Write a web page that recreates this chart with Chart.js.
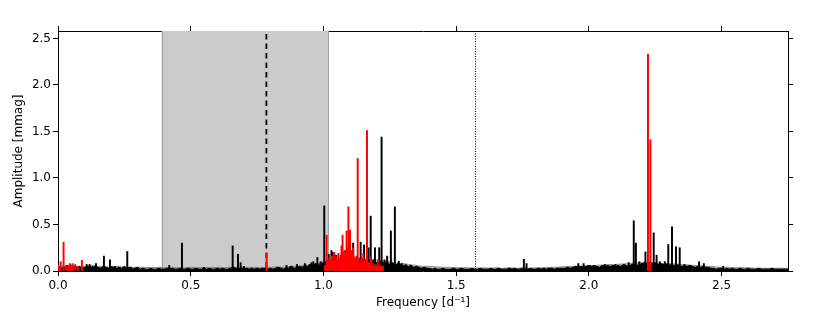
<!DOCTYPE html>
<html><head><meta charset="utf-8">
<script src="https://cdn.jsdelivr.net/npm/chart.js@4.4.1/dist/chart.umd.min.js"></script>
<style>html,body{margin:0;padding:0;background:#fff}</style>
</head><body>
<canvas id="c" width="830" height="316"></canvas>
<script>
// ---------- data (frequency in d^-1, amplitude in mmag) ----------
const xTicks = [0.0, 0.5, 1.0, 1.5, 2.0, 2.5];
const yTicks = [0.0, 0.5, 1.0, 1.5, 2.0, 2.5];
const xRange = [0, 2.75];
const yRange = [0, 2.58];
const shadeRange = [0.39, 1.02];
const dashedFreq = 0.785;
const dottedFreq = 1.571;

// noise floor of the full spectrum, sampled every 0.01 d^-1 from 0
const floorStep = 0.01;
const blackFloor = [
 0.03,0.04,0.03,0.05,0.04,0.03,0.05,0.04,0.05,0.03,0.04,
 0.04,0.05,0.03,0.06,0.04,0.03,0.05,0.04,0.03,0.05,0.04,0.03,0.04,0.03,0.05,0.03,0.04,0.02,0.03,0.04,
 0.02,0.03,0.02,0.02,0.03,0.02,0.02,0.03,0.02,0.02,0.03,0.02,0.03,0.02,0.02,0.03,0.02,0.02,0.03,0.02,
 0.02,0.03,0.02,0.02,0.03,0.02,0.03,0.02,0.02,0.03,0.02,0.03,0.02,0.02,0.03,0.04,0.03,0.02,0.03,0.02,
 0.03,0.02,0.03,0.02,0.03,0.02,0.03,0.03,0.02,0.03,0.02,0.03,0.04,0.03,0.02,0.04,0.03,0.05,0.03,0.04,
 0.05,0.04,0.06,0.05,0.07,0.06,0.08,0.06,0.09,0.08,
 0.10,0.12,0.09,0.14,0.11,0.13,0.10,0.15,0.12,0.14,0.11,0.13,0.10,0.14,0.12,0.11,0.13,0.10,0.12,0.09,0.11,0.10,0.08,0.10,0.07,0.09,0.06,0.08,0.07,0.06,
 0.06,0.05,0.06,0.04,0.05,0.04,0.03,0.04,0.03,0.03,
 0.02,0.03,0.02,0.02,0.03,0.02,0.02,0.02,0.03,0.02,0.02,0.03,0.02,0.02,0.02,0.03,0.02,0.02,0.03,0.02,
 0.02,0.02,0.03,0.02,0.02,0.03,0.02,0.02,0.02,0.03,0.02,0.03,0.02,0.02,0.03,0.02,0.02,0.03,0.02,0.02,
 0.03,0.02,0.03,0.02,0.03,0.03,0.02,0.03,0.03,0.03,
 0.03,0.04,0.03,0.04,0.05,0.04,0.05,0.04,0.05,0.06,0.05,0.06,0.05,0.04,0.06,0.05,0.06,0.05,0.06,0.05,
 0.06,0.05,0.07,0.06,0.05,0.07,0.08,0.06,0.07,0.08,0.09,0.08,0.10,0.08,0.09,0.07,0.08,0.07,0.08,0.06,
 0.07,0.06,0.07,0.06,0.05,0.06,0.05,0.06,0.05,0.04,0.05,0.04,0.05,0.04,0.04,
 0.03,0.03,0.02,0.03,0.03,0.02,0.03,0.02,0.03,0.02,0.02,0.03,0.02,0.02,0.03,0.02,0.02,0.02,0.03,0.02,
 0.02,0.02,0.02,0.03,0.02,0.02,0.02,0.02,0.02,0.02
];

// grey (original spectrum) noise level, sampled every 0.025 d^-1 from 0
const greyStep = 0.025;
const greyFloor = [
 0.06,0.05,0.06,0.05,0.05,0.06,0.05,0.05,0.04,0.05,0.04,0.04,0.04,
 0.04,0.035,0.04,0.035,0.04,0.035,0.035,0.04,0.035,0.04,0.035,0.04,0.035,0.04,0.04,0.035,0.04,0.04,0.035,0.04,0.045,0.04,0.05,0.05,
 0.06,0.07,0.08,0.10,0.12,0.13,0.14,0.13,0.14,0.13,0.12,0.12,0.11,0.10,0.09,0.08,0.07,0.06,
 0.05,0.05,0.045,0.04,0.04,0.035,0.035,0.035,0.03,0.035,0.03,0.035,0.03,0.035,0.03,0.035,0.03,0.035,0.035,0.04,0.04,0.045,
 0.05,0.05,0.055,0.06,0.06,0.065,0.07,0.07,0.075,0.08,0.085,0.09,0.09,0.085,0.08,0.08,0.075,0.07,0.065,0.06,0.055,0.05,
 0.045,0.04,0.04,0.035,0.035,0.035,0.03,0.03,0.03,0.03,0.03,0.03
];

// black peaks
const blackPeakFreq = [0.035,0.045,0.108,0.119,0.130,0.143,0.173,0.196,0.215,0.229,0.261,0.276,
 0.419,0.467,0.550,0.658,0.678,0.688,0.700,0.861,0.876,0.900,0.930,0.949,0.955,0.962,0.977,0.990,
 1.003,1.020,1.030,1.035,1.047,1.085,1.112,1.140,1.153,1.170,1.178,1.194,1.210,1.219,1.230,1.240,
 1.254,1.269,1.284,1.295,1.310,1.330,1.700,1.755,1.765,1.960,1.980,2.060,2.100,2.132,2.150,
 2.169,2.177,2.190,2.200,2.213,2.244,2.255,2.267,2.286,2.299,2.313,2.328,2.342,2.360,2.380,
 2.415,2.433,2.506];
const blackPeakAmp = [0.06,0.07,0.07,0.07,0.05,0.08,0.16,0.12,0.05,0.03,0.21,0.04,
 0.06,0.30,0.04,0.27,0.18,0.09,0.05,0.06,0.05,0.07,0.08,0.07,0.09,0.10,0.145,0.10,
 0.70,0.18,0.22,0.20,0.17,0.22,0.30,0.31,0.28,0.25,0.59,0.25,0.25,1.44,0.12,0.16,
 0.43,0.69,0.105,0.08,0.07,0.06,0.03,0.125,0.08,0.08,0.08,0.07,0.07,0.07,0.09,
 0.54,0.30,0.10,0.08,0.205,0.41,0.17,0.10,0.10,0.285,0.475,0.26,0.25,0.07,0.06,
 0.10,0.08,0.05];

// red peaks
const redPeakFreq = [0.004,0.010,0.021,0.030,0.038,0.044,0.050,0.055,0.065,0.075,0.090,0.786,
 1.006,1.012,1.016,1.020,1.024,1.028,1.032,1.036,1.041,1.045,1.050,1.056,1.060,1.064,1.068,1.072,
 1.076,1.080,1.084,1.087,1.091,1.094,1.097,1.100,1.104,1.108,1.112,1.116,1.120,1.124,1.129,1.133,
 1.137,1.142,1.146,1.150,1.155,1.159,1.164,1.168,1.172,1.176,1.179,1.184,1.188,1.192,1.197,1.201,
 1.206,1.211,1.216,1.220,1.224,2.2225,2.2315];
const redPeakAmp = [0.05,0.10,0.31,0.06,0.05,0.08,0.06,0.08,0.07,0.05,0.115,0.19,
 0.06,0.385,0.10,0.14,0.08,0.12,0.16,0.10,0.20,0.12,0.15,0.19,0.13,0.17,0.27,0.385,
 0.20,0.22,0.18,0.43,0.25,0.69,0.30,0.44,0.22,0.17,0.245,0.15,0.12,0.16,1.21,0.14,
 0.10,0.13,0.09,0.19,0.11,0.08,1.51,0.10,0.07,0.09,0.15,0.06,0.08,0.05,0.07,0.05,
 0.115,0.05,0.06,0.04,0.05,2.33,1.41];

// ---------- chart ----------
const pts = (fs, as) => fs.map((f, i) => ({x: f, y: as[i]}));
const grid = (arr, step) => arr.map((a, i) => ({x: +(i * step).toFixed(4), y: a}));

const shadePlugin = {
  id: 'shade',
  beforeDatasetsDraw(chart) {
    const {ctx, chartArea: a, scales: {x}} = chart;
    const x0 = x.getPixelForValue(shadeRange[0]);
    const x1 = x.getPixelForValue(shadeRange[1]);
    ctx.save();
    ctx.fillStyle = '#cbcbcb';
    ctx.fillRect(x0, a.top, x1 - x0, a.bottom - a.top);
    ctx.strokeStyle = '#a0a0a0';
    ctx.lineWidth = 1;
    ctx.beginPath();
    ctx.moveTo(Math.round(x0) + 0.5, a.top); ctx.lineTo(Math.round(x0) + 0.5, a.bottom);
    ctx.moveTo(Math.round(x1) - 0.5, a.top); ctx.lineTo(Math.round(x1) - 0.5, a.bottom);
    ctx.stroke();
    const xd = x.getPixelForValue(dashedFreq);
    ctx.strokeStyle = '#000';
    ctx.lineWidth = 1.8;
    ctx.setLineDash([5.5, 4]);
    ctx.beginPath(); ctx.moveTo(xd, a.top + 3); ctx.lineTo(xd, a.bottom); ctx.stroke();
    const xt = x.getPixelForValue(dottedFreq);
    ctx.lineWidth = 1;
    ctx.setLineDash([1, 1.5]);
    ctx.beginPath(); ctx.moveTo(Math.round(xt) + 0.5, a.top); ctx.lineTo(Math.round(xt) + 0.5, a.bottom); ctx.stroke();
    ctx.restore();
  }
};

const font = {family: 'DejaVu Sans', size: 12};
const axisCommon = (pos, vals, show) => ({
  type: 'linear',
  position: pos,
  offset: false,
  grid: {display: true, drawOnChartArea: false, drawTicks: true, tickLength: 5, color: '#000', lineWidth: 1, offset: false},
  border: {display: true, color: '#000', width: 1},
  ticks: {display: show, color: '#000', font: font, maxRotation: 0, autoSkip: false,
          callback: v => Number(v).toFixed(1)},
  afterBuildTicks: s => { s.ticks = vals.map(v => ({value: v})); }
});

const xAxis = Object.assign(axisCommon('bottom', xTicks, true), {
  min: xRange[0], max: xRange[1],
  title: {display: true, text: 'Frequency [d\u207B\u00B9]', color: '#000', font: font, padding: {top: 0, bottom: 6}},
  afterFit: s => { s.height = 45; }
});
xAxis.ticks.padding = 3;
const x2Axis = Object.assign(axisCommon('top', xTicks, false), {
  axis: 'x', min: xRange[0], max: xRange[1],
  afterFit: s => { s.height = 31; }
});
const yAxis = Object.assign(axisCommon('left', yTicks, true), {
  min: yRange[0], max: yRange[1],
  title: {display: true, text: 'Amplitude [mmag]', color: '#000', font: font, padding: {top: 12, bottom: 0}},
  afterFit: s => { s.width = 58; }
});
yAxis.ticks.padding = 2;
const y2Axis = Object.assign(axisCommon('right', yTicks, false), {
  axis: 'y', min: yRange[0], max: yRange[1],
  afterFit: s => { s.width = 42; }
});

new Chart(document.getElementById('c'), {
  type: 'bar',
  data: {
    datasets: [
      {type: 'bar', data: pts(redPeakFreq, redPeakAmp), backgroundColor: '#ff0000',
       barThickness: 1.3, grouped: false, order: 0, xAxisID: 'x', yAxisID: 'y'},
      {type: 'bar', data: pts(blackPeakFreq, blackPeakAmp), backgroundColor: '#000000',
       barThickness: 1.3, grouped: false, order: 1, xAxisID: 'x', yAxisID: 'y'},
      {type: 'line', data: grid(blackFloor, floorStep), borderColor: '#000', borderWidth: 1,
       backgroundColor: '#000', fill: 'origin', pointRadius: 0, tension: 0, order: 2, xAxisID: 'x', yAxisID: 'y'},
      {type: 'line', data: grid(greyFloor, greyStep), borderColor: 'rgba(110,110,110,0.7)', borderWidth: 1,
       backgroundColor: 'rgba(140,140,140,0.55)', fill: 'origin', pointRadius: 0, tension: 0, order: 3, xAxisID: 'x', yAxisID: 'y'}
    ]
  },
  options: {
    responsive: false,
    animation: false,
    devicePixelRatio: 1,
    layout: {padding: 0},
    plugins: {legend: {display: false}, tooltip: {enabled: false}},
    scales: {x: xAxis, x2: x2Axis, y: yAxis, y2: y2Axis}
  },
  plugins: [shadePlugin]
});
</script>
</body></html>
